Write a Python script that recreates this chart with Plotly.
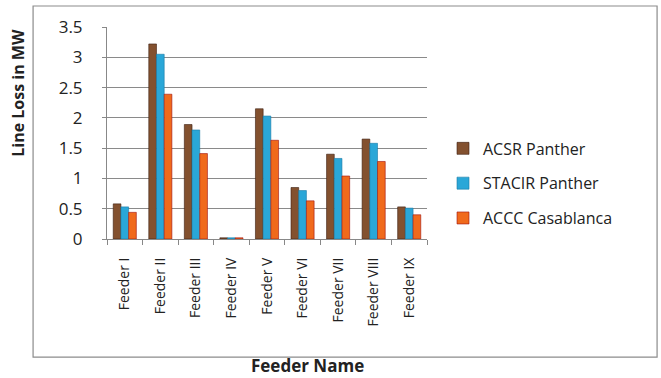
import plotly.graph_objects as go

feeders = ["Feeder I", "Feeder II", "Feeder III", "Feeder IV", "Feeder V",
           "Feeder VI", "Feeder VII", "Feeder VIII", "Feeder IX"]
acsr_panther = [0.58, 3.22, 1.89, 0.02, 2.15, 0.85, 1.40, 1.65, 0.53]
stacir_panther = [0.53, 3.05, 1.80, 0.02, 2.03, 0.80, 1.33, 1.58, 0.51]
accc_casablanca = [0.44, 2.39, 1.41, 0.02, 1.63, 0.63, 1.04, 1.28, 0.40]
y_ticks = [0, 0.5, 1, 1.5, 2, 2.5, 3, 3.5]
y_tick_text = ["0", "0.5", "1", "1.5", "2", "2.5", "3", "3.5"]

FONT = "'Open Sans', sans-serif"
TEXT = "#222222"

series = [
    ("ACSR Panther", acsr_panther, "#83512f", "#3d1f10"),
    ("STACIR Panther", stacir_panther, "#2aa7d8", "#1a7aa6"),
    ("ACCC Casablanca", accc_casablanca, "#f06a1c", "#a01010"),
]

fig = go.Figure()
for name, vals, fill, edge in series:
    fig.add_trace(go.Bar(
        name=name, x=feeders, y=vals, legendgroup=name,
        marker=dict(color=fill, line=dict(color=edge, width=0.6)),
    ))

fig.update_layout(
    width=661, height=378,
    margin=dict(l=107, r=234, t=27, b=139),
    paper_bgcolor="white", plot_bgcolor="white",
    barmode="group", bargap=0.35, bargroupgap=0.0,
    font=dict(family=FONT, color=TEXT),
    showlegend=True,
    legend=dict(
        x=1.05, xanchor="left", y=0.262, yanchor="middle",
        font=dict(family=FONT, size=16, color=TEXT),
        itemwidth=30, tracegroupgap=11, bgcolor="rgba(0,0,0,0)",
    ),
    xaxis=dict(
        tickangle=-90, tickfont=dict(size=14, family=FONT, color=TEXT),
        ticks="outside", tickson="boundaries", ticklen=5, tickcolor="#888",
        ticklabelstandoff=12,
        showline=True, linecolor="#888", linewidth=1,
        showgrid=False,
    ),
    yaxis=dict(
        range=[0, 3.5], tickvals=y_ticks, ticktext=y_tick_text,
        tickfont=dict(size=17, family=FONT, color=TEXT),
        ticks="outside", ticklen=4, tickcolor="#888",
        ticklabelstandoff=16,
        showline=True, linecolor="#888", linewidth=1,
        showgrid=True, gridcolor="#8a8a8a", gridwidth=1,
        zeroline=False,
    ),
    annotations=[
        dict(text="<b>Line Loss in MW</b>", xref="paper", yref="paper",
             x=-0.278, y=0.69, xanchor="center", yanchor="middle",
             textangle=-90, showarrow=False,
             font=dict(size=16, family=FONT, color=TEXT)),
        dict(text="<b>Feeder Name</b>", xref="paper", yref="paper",
             x=0.625, y=-0.598, xanchor="center", yanchor="middle",
             showarrow=False,
             font=dict(size=17, family=FONT, color=TEXT)),
    ],
    shapes=[dict(
        type="rect", xref="paper", yref="paper",
        x0=-0.231, x1=1.719, y0=-0.557, y1=1.099,
        line=dict(color="#8c8c8c", width=1.2), layer="below",
    )],
)

fig.write_html("out.html")
